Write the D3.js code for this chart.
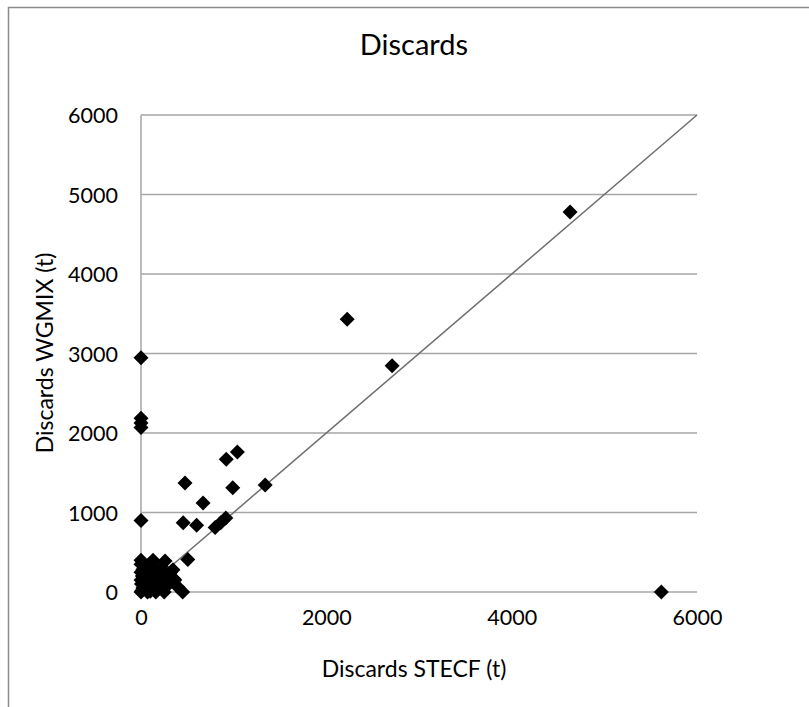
<!DOCTYPE html>
<html><head><meta charset="utf-8">
<script src="https://d3js.org/d3.v7.min.js"></script>
<style>body{margin:0;background:#fff;} svg{display:block;}</style>
</head><body>
<script>
// Data (tonnes)
const stecf = [4630, 2225, 2710, 5615, 0, 0, 0, 0, 1040, 920, 475, 990, 1340, 670, 0, 455, 600, 800, 860, 915, 505,
  0, 10, 20, 5, 0, 15, 0, 30, 0, 50, 60, 80, 100, 100, 120, 130, 150, 180, 200, 220, 250, 260, 280, 300, 320, 40, 70, 90, 140, 160, 200, 230, 350, 110, 30, 0, 50, 450, 400, 365, 345, 60, 110, 20];
const wgmix = [4780, 3430, 2845, 0, 2945, 2185, 2125, 2070, 1760, 1670, 1370, 1310, 1345, 1120, 900, 870, 840, 810, 870, 930, 410,
  0, 20, 50, 100, 150, 200, 250, 300, 350, 30, 120, 200, 10, 300, 80, 400, 150, 250, 50, 320, 0, 390, 180, 100, 250, 60, 0, 350, 220, 0, 130, 260, 170, 50, 150, 400, 250, 0, 60, 150, 280, 80, 180, 280];
const xTicks = [0, 2000, 4000, 6000];
const yTicks = [0, 1000, 2000, 3000, 4000, 5000, 6000];
const title = "Discards";
const xTitle = "Discards STECF (t)";
const yTitle = "Discards WGMIX (t)";

const W = 809, H = 707;
const svg = d3.select("body").append("svg").attr("width", W).attr("height", H);
const font = "Lato, 'Open Sans', sans-serif";

// frame
svg.append("rect").attr("x", 8.5).attr("y", 7.5).attr("width", 900).attr("height", 900)
  .attr("fill", "none").attr("stroke", "#8c8c8c").attr("stroke-width", 1.5);

const x = d3.scaleLinear().domain([0, 6000]).range([141, 697]);
const y = d3.scaleLinear().domain([0, 6000]).range([592, 115]);

// gridlines
svg.append("g").selectAll("line").data(yTicks).join("line")
  .attr("x1", x(0)).attr("x2", x(6000))
  .attr("y1", d => y(d)).attr("y2", d => y(d))
  .attr("stroke", "#a6a6a6").attr("stroke-width", 1.5);

// y axis line
svg.append("line").attr("x1", x(0)).attr("x2", x(0)).attr("y1", y(0)).attr("y2", y(6000))
  .attr("stroke", "#a6a6a6").attr("stroke-width", 1.5);

// axes labels via d3 axes
const yAxis = svg.append("g").attr("transform", `translate(${x(0) - 23},0)`)
  .call(d3.axisLeft(y).tickValues(yTicks).tickSize(0).tickPadding(0).tickFormat(d3.format("d")));
yAxis.select(".domain").remove();
yAxis.selectAll("text").attr("font-family", font).attr("font-size", 21.5).attr("fill", "#000").attr("dy", "0.35em");

const xAxis = svg.append("g").attr("transform", `translate(0,${y(0) + 18})`)
  .call(d3.axisBottom(x).tickValues(xTicks).tickSize(0).tickPadding(0).tickFormat(d3.format("d")));
xAxis.select(".domain").remove();
xAxis.selectAll("text").attr("font-family", font).attr("font-size", 21.5).attr("fill", "#000").attr("dy", "0.71em");

// 1:1 line
svg.append("line").attr("x1", x(0)).attr("y1", y(0)).attr("x2", x(6000)).attr("y2", y(6000))
  .attr("stroke", "#6e6e6e").attr("stroke-width", 1.5);

// points (diamonds)
const r = 7.5;
const diamond = `M0,${-r}L${r},0L0,${r}L${-r},0Z`;
svg.append("g").selectAll("path").data(stecf.map((v, i) => [v, wgmix[i]])).join("path")
  .attr("d", diamond)
  .attr("transform", d => `translate(${x(d[0])},${y(d[1])})`)
  .attr("fill", "#000");

// titles
svg.append("text").attr("x", 414).attr("y", 55).attr("text-anchor", "middle")
  .attr("font-family", font).attr("font-size", 29).attr("fill", "#000").text(title);
svg.append("text").attr("x", 414).attr("y", 677).attr("text-anchor", "middle")
  .attr("font-family", font).attr("font-size", 23).attr("fill", "#000").text(xTitle);
svg.append("text").attr("transform", "translate(53,353) rotate(-90)").attr("text-anchor", "middle")
  .attr("font-family", font).attr("font-size", 23).attr("fill", "#000").text(yTitle);
</script>
</body></html>
